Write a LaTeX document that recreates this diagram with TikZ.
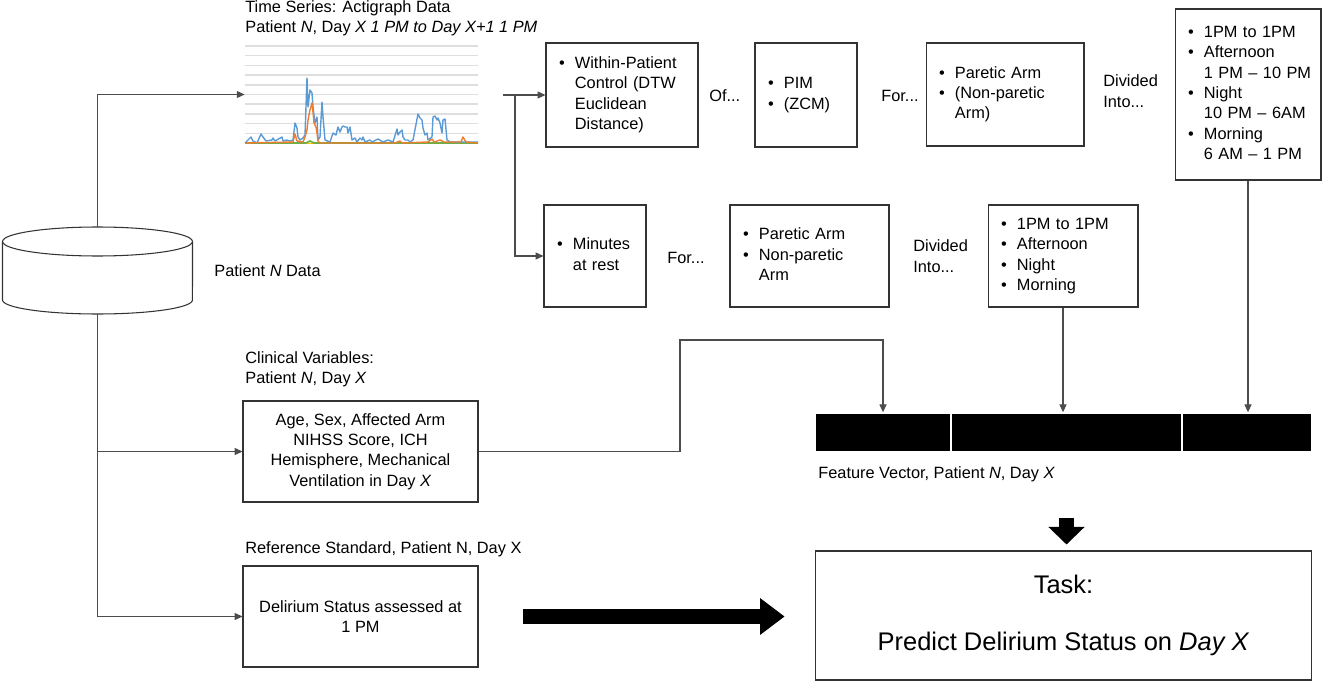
\documentclass[tikz,border=0pt]{standalone}
\usepackage{fontspec}
\setmainfont{Liberation Sans}
\usetikzlibrary{arrows.meta}
\definecolor{xlblue}{HTML}{5B9BD5}
\definecolor{xlorange}{HTML}{ED7D31}
\definecolor{xlgreen}{HTML}{70AD47}
\definecolor{xlyellow}{HTML}{FFC000}
\definecolor{gridgray}{HTML}{DEDEDE}
\newcommand{\txt}{\fontsize{9.3}{11.6}\selectfont}
\newcommand{\blist}[1]{\begin{tabular}{@{}l@{\hspace{5.8pt}}l@{}}#1\end{tabular}}
\begin{document}
\begin{tikzpicture}[x=0.02cm, y=-0.02cm, font=\txt, >={Triangle[length=4.5pt,width=4pt]},
    box/.style={draw=black!80, line width=0.6pt, inner sep=0pt, align=center},
    listbox/.style={box, align=left, inner xsep=0.26cm},
    link/.style={draw=black!70, line width=0.6pt, ->},
    fat/.style={line width=9pt, -{Triangle[length=14pt,width=20pt]}},
    fvseg/.style={fill=black, draw=white, line width=0.8pt, minimum height=0.78cm, inner sep=0pt},
    lbl/.style={anchor=west, inner sep=0pt, align=left}]
      \useasboundingbox (0,0) rectangle (1325,686);
      \node[inner sep=0pt, minimum width=3.8cm, minimum height=1.74cm] (db) at (97.5,270.5) {};
      \draw[draw=black!80, line width=0.6pt] (97.5,241.5) ellipse [x radius=1.9cm, y radius=0.29cm];
      \draw[draw=black!80, line width=0.6pt] (2.5,241.5) -- (2.5,300) arc[start angle=180, end angle=360, x radius=1.9cm, y radius=0.28cm] -- (192.5,241.5);
      \node[lbl] (dblbl) at (214,271) {Patient \textit{N} Data};
      \node[lbl] (tstitle) at (245,18) {Time Series: Actigraph Data\\Patient \textit{N}, Day \textit{X 1 PM to Day X+1 1 PM}};
      \node[inner sep=0pt, minimum width=4.66cm, minimum height=1.94cm] (chart) at (361.5,94.5) {};
      \draw[gridgray, line width=0.8pt] (245,46) -- (478,46) (245,55.7) -- (478,55.7) (245,65.4) -- (478,65.4) (245,75.1) -- (478,75.1) (245,84.8) -- (478,84.8) (245,94.5) -- (478,94.5) (245,104.2) -- (478,104.2) (245,113.9) -- (478,113.9) (245,123.6) -- (478,123.6) (245,133.3) -- (478,133.3);
      \draw[xlyellow, line width=0.9pt] (245,143.5) -- (478,143.5);
      \draw[xlgreen, line width=0.9pt] plot coordinates {(245,143)(306,143)(310,141)(314,143)(478,143)};
      \draw[xlblue, line width=0.8pt, line join=round] plot coordinates {(245,143)(248,140)(251,137)(253,141)(257,143)(261,134)(263,137)(266,141)(272,140)(273,138)(275,141)(282,137)(283,141)(287,140)(290,141)(293,140)(295,123)(297,128)(298,137)(300,140)(303,138)(305,135)(307,78)(308,107)(310,90)(312,93)(313,107)(315,123)(317,117)(318,140)(320,137)(322,102)(323,117)(325,140)(330,142)(333,133)(336,135)(338,127)(340,132)(342,127)(343,126)(345,127)(347,127)(348,133)(350,127)(352,140)(355,138)(357,142)(360,138)(362,140)(363,137)(365,142)(370,140)(372,142)(378,139)(383,142)(388,140)(393,142)(397,129)(398,135)(400,132)(402,130)(403,137)(405,140)(408,140)(410,142)(413,140)(418,114)(420,118)(422,120)(423,128)(425,135)(427,133)(428,140)(432,137)(433,117)(435,116)(437,120)(438,118)(440,123)(442,133)(443,120)(445,119)(447,140)(450,142)(478,142)};
      \draw[xlorange, line width=0.8pt, line join=round] plot coordinates {(245,143)(293,142)(295,134)(297,141)(303,142)(305,137)(307,130)(308,120)(310,110)(312,103)(313,112)(314,123)(316,127)(317,133)(318,141)(320,143)(395,143)(400,141)(402,143)(428,142)(432,139)(434,142)(440,140)(444,142)(461,142)(463,137)(466,142)(478,143)};
      \node[listbox, text width=2.52cm, minimum height=2.08cm] (wpc) at (622,95) {\blist{\textbullet & Within-Patient\\ & Control (DTW\\ & Euclidean\\ & Distance)}};
      \node[lbl] (ofA) at (709,96) {Of...};
      \node[listbox, text width=1.52cm, minimum height=2.08cm] (pim) at (806,95) {\blist{\textbullet & PIM\\ \textbullet & (ZCM)}};
      \node[lbl] (forA) at (881,96) {For...};
      \node[listbox, text width=2.64cm, minimum height=2.06cm] (armA) at (1005,94.5) {\blist{\textbullet & Paretic Arm\\ \textbullet & (Non-paretic\\ & Arm)}};
      \node[lbl] (divA) at (1103,91) {Divided\\Into...};
      \node[listbox, text width=2.40cm, minimum height=3.42cm] (perA) at (1248,94.5) {\blist{\textbullet & 1PM to 1PM\\ \textbullet & Afternoon\\ & 1 PM -- 10 PM\\ \textbullet & Night\\ & 10 PM -- 6AM\\ \textbullet & Morning\\ & 6 AM -- 1 PM}};
      \node[listbox, text width=1.52cm, minimum height=2.04cm] (rest) at (595,256) {\blist{\textbullet & Minutes\\ & at rest}};
      \node[lbl] (forB) at (667,258) {For...};
      \node[listbox, text width=2.66cm, minimum height=2.04cm] (armB) at (809.5,256) {\blist{\textbullet & Paretic Arm\\ \textbullet & Non-paretic\\ & Arm}};
      \node[lbl] (divB) at (913,256) {Divided\\Into...};
      \node[listbox, text width=2.48cm, minimum height=2.04cm] (perB) at (1063,256) {\blist{\textbullet & 1PM to 1PM\\ \textbullet & Afternoon\\ \textbullet & Night\\ \textbullet & Morning}};
      \node[lbl] (cliniclbl) at (245,369) {Clinical Variables:\\Patient \textit{N}, Day \textit{X}};
      \node[box, minimum width=4.7cm, minimum height=2.02cm] (clin) at (360.5,451.5) {Age, Sex, Affected Arm\\NIHSS Score, ICH\\Hemisphere, Mechanical\\Ventilation in Day \textit{X}};
      \node[lbl] (reflbl) at (245,549) {Reference Standard, Patient N, Day X};
      \node[box, minimum width=4.7cm, minimum height=2.02cm] (ref) at (360.5,616.5) {Delirium Status assessed at\\1 PM};
      \node[fvseg, minimum width=2.72cm] (fv1) at (883,432.5) {}; \node[fvseg, minimum width=4.62cm] (fv2) at (1066.5,432.5) {}; \node[fvseg, minimum width=2.6cm] (fv3) at (1247,432.5) {};
      \node[lbl] (fvlbl) at (818,474) {Feature Vector, Patient \textit{N}, Day \textit{X}};
      \node[box, minimum width=9.94cm, minimum height=2.58cm, font=\fontsize{14.5}{17.4}\selectfont] (task) at (1063.5,615.5) {Task:\\[14.6pt]Predict Delirium Status on \textit{Day X}};
      \coordinate (tsout) at (503,95); \coordinate (tsfork) at (515,95); \coordinate (cbend) at (680,340);
      \draw[link] (db.north) |- (chart.west);
      \draw[link] (db.south) |- (clin.west);
      \draw[link] (db.south) |- (ref.west);
      \draw[link] (tsout) -- (wpc.west);
      \draw[link] (tsfork) |- (rest.west);
      \draw[link] (clin.east) -| (cbend) -| (fv1.north);
      \draw[link] (perB.south) -- (perB.south |- fv2.north);
      \draw[link] (perA.south) -- (perA.south |- fv3.north);
      \draw[fat, shorten <=25.5pt, shorten >=17pt] (ref.east) -- (ref.east -| task.west);
      \draw[line width=8pt, -{Triangle[length=10pt,width=20pt]}, shorten <=36.9pt, shorten >=3.4pt] (fv2.south) -- (fv2.south |- task.north);
    \end{tikzpicture}
\end{document}
